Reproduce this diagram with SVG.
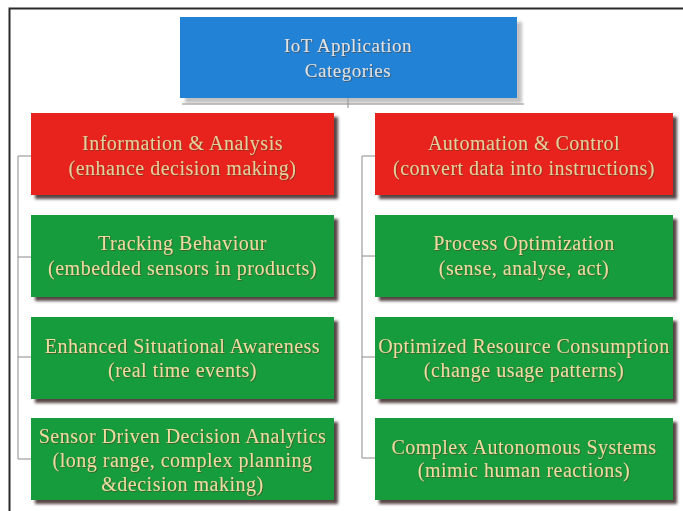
<svg xmlns="http://www.w3.org/2000/svg" width="683" height="511" viewBox="0 0 683 511">
<defs>
<filter id="sh" x="-5%" y="-10%" width="115%" height="130%">
<feDropShadow dx="4" dy="4" stdDeviation="1.5" flood-color="#3b2626" flood-opacity="0.85"/>
</filter>
<filter id="shb" x="-5%" y="-10%" width="115%" height="130%">
<feDropShadow dx="5" dy="5" stdDeviation="1.5" flood-color="#9a9a9a" flood-opacity="0.6"/>
</filter>
<filter id="ts" x="-5%" y="-20%" width="110%" height="140%">
<feDropShadow dx="0.8" dy="0.8" stdDeviation="0.4" flood-color="#5a3a20" flood-opacity="0.7"/>
</filter>
</defs>
<style>
.blue{fill:#2382d6;}
.red{fill:#e8221c;}
.green{fill:#199b3e;}
.box{filter:url(#sh);}
text{font-family:"Liberation Serif","Times New Roman",serif;font-size:20px;letter-spacing:0.5px;fill:#ecdca0;text-anchor:middle;filter:url(#ts);}
.rt{fill:#e6cf9a;}
.bt{fill:#dfe2e4;font-size:19px;}
.ln{stroke:#8a8a8a;stroke-width:1;fill:none;}
</style>
<rect x="0" y="0" width="683" height="511" fill="#ffffff"/>
<path d="M9.5 511 V8.5 H683" fill="none" stroke="#2a2a2a" stroke-width="2"/>
<g id="connectors">
<path class="ln" d="M348 98 V108"/>
<path class="ln" d="M182 104 H524" stroke="#c8c8c8"/>
<path class="ln" d="M18 156 V459 M18 156 H31 M18 257 H31 M18 357 H31 M18 459 H31"/>
<path class="ln" d="M362 156 V458 M362 156 H375 M362 256 H375 M362 357 H375 M362 458 H375"/>
</g>
<g id="root">
<rect x="180" y="17" width="337" height="81" class="blue" filter="url(#shb)"/>
<text class="bt" x="348" y="52">IoT Application</text>
<text class="bt" x="348" y="77">Categories</text>
</g>
<g id="info">
<rect x="31" y="113" width="303" height="82" class="red box"/>
<text class="rt" x="182.5" y="150">Information &amp; Analysis</text>
<text class="rt" x="182.5" y="175">(enhance decision making)</text>
</g>
<g id="auto">
<rect x="375" y="113" width="298" height="82" class="red box"/>
<text class="rt" x="524" y="150">Automation &amp; Control</text>
<text class="rt" x="524" y="175">(convert data into instructions)</text>
</g>
<g id="tracking">
<rect x="31" y="215" width="303" height="82" class="green box"/>
<text x="182.5" y="250">Tracking Behaviour</text>
<text x="182.5" y="275">(embedded sensors in products)</text>
</g>
<g id="process">
<rect x="375" y="215" width="298" height="82" class="green box"/>
<text x="524" y="250">Process Optimization</text>
<text x="524" y="275">(sense, analyse, act)</text>
</g>
<g id="situational">
<rect x="31" y="317" width="303" height="82" class="green box"/>
<text x="182.5" y="353">Enhanced Situational Awareness</text>
<text x="182.5" y="377">(real time events)</text>
</g>
<g id="resource">
<rect x="375" y="317" width="298" height="82" class="green box"/>
<text x="524" y="353">Optimized Resource Consumption</text>
<text x="524" y="377">(change usage patterns)</text>
</g>
<g id="sensor">
<rect x="31" y="418" width="303" height="82" class="green box"/>
<text x="182.5" y="443">Sensor Driven Decision Analytics</text>
<text x="182.5" y="467">(long range, complex planning</text>
<text x="182.5" y="491">&amp;decision making)</text>
</g>
<g id="autonomous">
<rect x="375" y="418" width="298" height="82" class="green box"/>
<text x="524" y="454">Complex Autonomous Systems</text>
<text x="524" y="477">(mimic human reactions)</text>
</g>
</svg>
